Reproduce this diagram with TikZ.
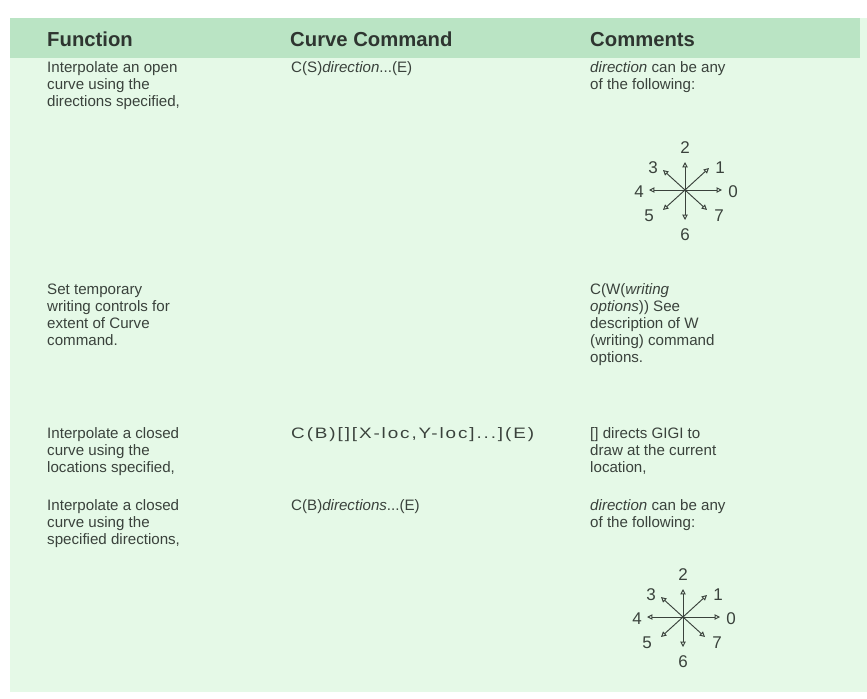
\documentclass[tikz,border=0pt]{standalone}
\usepackage{graphicx}
\usepackage{fontspec}
\setmainfont{Liberation Sans}
\usetikzlibrary{arrows.meta}
\definecolor{headgreen}{RGB}{186,228,196}
\definecolor{bodygreen}{RGB}{229,249,231}
\definecolor{inkgray}{RGB}{58,66,60}

\begin{document}
\begin{tikzpicture}[x=0.03cm, y=-0.03cm]
    % multi-line cells are placed at the baseline of their last line
    \tikzstyle{cell}=[anchor=base west, inner sep=0pt, align=left, text=inkgray, font=\fontsize{12.9}{14.5}\selectfont]
    \tikzstyle{head}=[anchor=base west, inner sep=0pt, text=inkgray!80!black, font=\fontsize{17.3}{20}\selectfont\bfseries]
    \tikzstyle{dirnum}=[inner sep=0pt, text=inkgray, font=\fontsize{14.5}{15}\selectfont]
    \tikzstyle{dirarrow}=[inkgray, line width=0.8pt, -{Triangle[open, length=4.5pt, width=4.5pt]}]

    \useasboundingbox (0,0) rectangle (867,698);

    % Background and header band
    \fill[bodygreen] (10,18) rectangle (867,692);
    \fill[headgreen] (10,18) rectangle (860,58);

    % Header
    \node[head] (hfunc) at (47,46) {Function};
    \node[head] (hcmd) at (290,46) {Curve Command};
    \node[head] (hcom) at (590,46) {Comments};

    % Row 1
    \node[cell] (fopen) at (47,106) {Interpolate an open\\curve using the\\directions specified,};
    \node[cell] (copen) at (291,72) {C(S)\textit{direction}...(E)};
    \node[cell] (mopen) at (590,89) {\textit{direction} can be any\\of the following:};

    % Row 2
    \node[cell] (fwrite) at (47,345) {Set temporary\\writing controls for\\extent of Curve\\command.};
    \node[cell] (mwrite) at (590,362) {C(W(\textit{writing}\\\textit{options})) See\\description of W\\(writing) command\\options.};

    % Row 3
    \node[cell] (floc) at (47,472) {Interpolate a closed\\curve using the\\locations specified,};
    \node[cell] (cloc) at (291,438) {\scalebox{1.25}[1]{\addfontfeatures{LetterSpace=10}C(B)[][X-loc,Y-loc]...](E)}};
    \node[cell] (mloc) at (590,472) {[] directs GIGI to\\draw at the current\\location,};

    % Row 4
    \node[cell] (fclosed) at (47,544) {Interpolate a closed\\curve using the\\specified directions,};
    \node[cell] (cclosed) at (291,510) {C(B)\textit{directions}...(E)};
    \node[cell] (mclosed) at (590,527) {\textit{direction} can be any\\of the following:};

    % Direction roses
    \foreach \cx/\cy/\r in {685/190/a, 683/617/b} {
        \coordinate (\r c) at (\cx,\cy);
        \foreach \k/\dx/\dy/\lx/\ly in {0/37/0/48/2, 1/24/-22/35/-22, 2/0/-28/0/-42,
                3/-22/-20/-32/-22, 4/-36/0/-46/2, 5/-22/20/-36/26,
                6/0/30/0/45, 7/22/20/34/26} {
            \coordinate (\r t\k) at (\cx+\dx,\cy+\dy);
            \draw[dirarrow] (\r c) -- (\r t\k);
            \node[dirnum] (\r n\k) at (\cx+\lx,\cy+\ly) {\k};
        }
    }
\end{tikzpicture}
\end{document}
